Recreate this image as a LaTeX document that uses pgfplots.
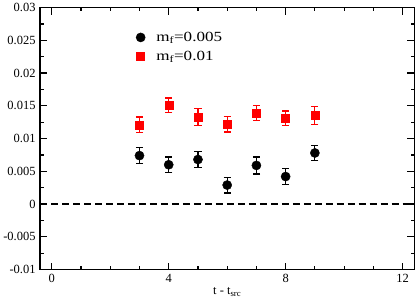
\documentclass[border=0pt]{standalone}
\usepackage{pgfplots}
\pgfplotsset{compat=1.18}
\usepackage{fontspec}
\setmainfont{Liberation Serif}
\begin{document}
\begin{tikzpicture}
\begin{axis}[
  scale only axis,
  width=374.6pt, height=262.3pt,
  xmin=-0.4, xmax=12.4,
  ymin=-0.01, ymax=0.03,
  scaled y ticks=false, scaled x ticks=false,
  xtick={0,4,8,12}, xticklabels={0,4,8,12},
  minor x tick num=3,
  ytick={-0.01,-0.005,0,0.005,0.01,0.015,0.02,0.025,0.03},
  yticklabels={-0.01,-0.005,0,0.005,0.01,0.015,0.02,0.025,0.03},
  minor y tick num=1,
  tick pos=both,
  tick align=inside,
  major tick length=7pt,
  minor tick length=3.5pt,
  axis line style={line width=1.5pt},
  every tick/.style={black, line width=1.2pt},
  ticklabel style={font=\fontsize{12.5}{14}\selectfont},
  xticklabel style={yshift=-1pt},
  yticklabel style={xshift=-1pt},
  xlabel={t - t\textsubscript{src}},
  xlabel style={font=\fontsize{12.5}{14}\selectfont, yshift=2pt},
  legend style={draw=none, fill=none, at={(0.256,0.915)}, anchor=north west,
    font=\fontsize{14}{16}\selectfont, row sep=4pt, inner sep=0pt,
    /tikz/every odd column/.append style={column sep=9pt}},
  legend cell align=left,
  legend image code/.code={\draw[#1,only marks] plot coordinates {(0.15cm,0cm)};},
]
\addplot[black, mark=*, only marks, mark size=4.6pt,
  error bars/.cd, y dir=both, y explicit,
  error bar style={line width=1.2pt, black},
  error mark options={rotate=90, mark size=3.6pt, line width=1.2pt, black}]
  coordinates {
  (3,0.0074) +- (0,0.0012)
  (4,0.0060) +- (0,0.0012)
  (5,0.0068) +- (0,0.0012)
  (6,0.0029) +- (0,0.0012)
  (7,0.0059) +- (0,0.0013)
  (8,0.0042) +- (0,0.0012)
  (9,0.0078) +- (0,0.0012)
  };
\addlegendentry{\scalebox{1.22}[1]{m\textsubscript{f}=0.005}}
\addplot[red, mark=square*, only marks, mark size=4pt,
  error bars/.cd, y dir=both, y explicit,
  error bar style={line width=1.2pt, red},
  error mark options={rotate=90, mark size=3.6pt, line width=1.2pt, red}]
  coordinates {
  (3,0.0121) +- (0,0.0012)
  (4,0.0151) +- (0,0.0011)
  (5,0.0133) +- (0,0.0013)
  (6,0.0122) +- (0,0.0012)
  (7,0.0139) +- (0,0.0011)
  (8,0.0131) +- (0,0.0011)
  (9,0.0135) +- (0,0.0014)
  };
\addlegendentry{\scalebox{1.22}[1]{m\textsubscript{f}=0.01}}
\addplot[black, line width=1.3pt, dash pattern=on 7pt off 4pt, forget plot]
  coordinates {(-0.4,0) (12.4,0)};
\end{axis}
\end{tikzpicture}
\end{document}
